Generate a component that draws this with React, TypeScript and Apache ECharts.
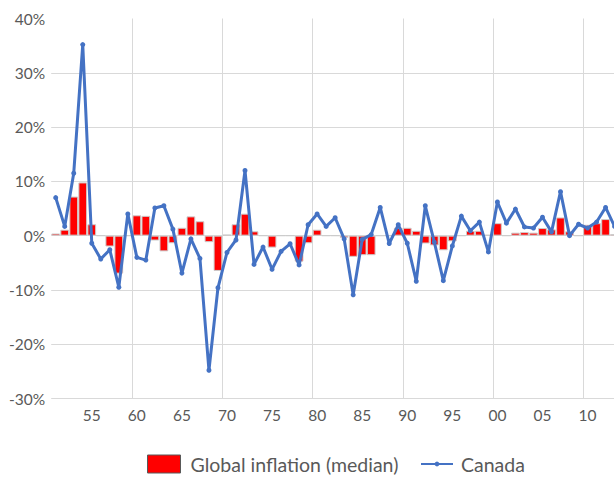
import React, { useEffect, useRef } from 'react';
import * as echarts from 'echarts';

const years = [
  '1951', '1952', '1953', '1954', '1955', '1956', '1957', '1958', '1959', '1960',
  '1961', '1962', '1963', '1964', '1965', '1966', '1967', '1968', '1969', '1970',
  '1971', '1972', '1973', '1974', '1975', '1976', '1977', '1978', '1979', '1980',
  '1981', '1982', '1983', '1984', '1985', '1986', '1987', '1988', '1989', '1990',
  '1991', '1992', '1993', '1994', '1995', '1996', '1997', '1998', '1999', '2000',
  '2001', '2002', '2003', '2004', '2005', '2006', '2007', '2008', '2009', '2010',
  '2011', '2012', '2013',
];

const globalInflation = [
  0.4, 1.1, 7.2, 9.8, 2.1, 0, -2.0, -7.0, 0, 3.75,
  3.65, -0.9, -2.9, -1.4, 1.45, 3.55, 2.65, -1.2, -6.5, 0.2,
  2.1, 4.05, 0.8, 0, -2.2, 0, 0, -4.8, -1.4, 1.1,
  0, 0, -0.4, -3.9, -3.6, -3.6, 0, 0, 1.45, 1.45,
  0.9, -1.45, -1.8, -2.7, -1.05, 0, 0.9, 0.9, 0.15, 2.3,
  0, 0.55, 0.65, 0.55, 1.4, 1.15, 3.35, 0.8, 0, 2.0,
  2.3, 3.05, 0.3,
];

const canada = [
  7.0, 1.7, 11.5, 35.2, -1.4, -4.3, -2.6, -9.5, 4.0, -4.0,
  -4.5, 5.1, 5.5, 1.2, -6.9, -0.6, -4.2, -24.8, -9.6, -3.1,
  -0.8, 12.0, -5.3, -2.1, -6.2, -2.9, -1.5, -5.4, 2.0, 4.0,
  1.7, 3.3, -0.6, -10.9, -0.7, 0.2, 5.2, -1.45, 2.0, -1.4,
  -8.4, 5.5, -1.2, -8.3, -1.9, 3.6, 0.9, 2.5, -3.0, 6.2,
  2.3, 4.9, 1.6, 1.4, 3.4, 0.7, 8.1, 0.0, 2.1, 1.4,
  2.5, 5.2, 1.7,
];

const seriesNames = ['Global inflation (median)', 'Canada'];

export default function App() {
  const ref = useRef<HTMLDivElement>(null);
  useEffect(() => {
    const chart = echarts.init(ref.current!, null, { renderer: 'svg' });
    const font = 'Lato, "Noto Sans", sans-serif';
    const gridColor = '#d9d9d9';
    const textColor = '#595959';
    chart.setOption({
      animation: false,
      textStyle: { fontFamily: font },
      grid: { left: 51.2, top: 18.5, width: 567.9, height: 380, containLabel: false },
      legend: [
        {
          data: [{ name: seriesNames[0], icon: 'rect', itemStyle: { borderColor: '#595959', borderWidth: 1 } }],
          left: 147,
          top: 454,
          padding: 0,
          itemWidth: 33,
          itemHeight: 18,
          textStyle: { color: textColor, fontSize: 19.5, fontFamily: font, padding: [0, 0, 0, 5] },
        },
        {
          data: [seriesNames[1]],
          left: 420,
          top: 454,
          padding: 0,
          itemWidth: 32,
          itemHeight: 6,
          textStyle: { color: textColor, fontSize: 19.5, fontFamily: font, padding: [0, 0, 0, 3] },
        },
      ],
      xAxis: {
        type: 'category',
        data: years,
        boundaryGap: true,
        axisLine: { show: false },
        axisTick: {
          show: true,
          length: 5,
          interval: (_i: number, v: string) => Number(v) % 10 === 0,
          lineStyle: { color: gridColor },
        },
        axisLabel: {
          interval: (_i: number, v: string) => Number(v) % 5 === 0,
          formatter: (v: string) => v.slice(2),
          color: textColor,
          fontSize: 15.5,
          margin: 8,
          fontFamily: font,
        },
        splitLine: {
          show: true,
          interval: (_i: number, v: string) => Number(v) % 10 === 0,
          lineStyle: { color: gridColor, width: 1 },
        },
      },
      yAxis: {
        type: 'value',
        min: -30,
        max: 40,
        interval: 10,
        axisLine: { show: false },
        axisTick: { show: false },
        axisLabel: { formatter: '{value}%', color: textColor, fontSize: 15.5, margin: 6, fontFamily: font },
        splitLine: {
          lineStyle: {
            color: [gridColor, gridColor, gridColor, gridColor, gridColor, gridColor, gridColor, 'rgba(0,0,0,0)'],
            width: 1,
          },
        },
      },
      series: [
        {
          name: seriesNames[0],
          type: 'bar',
          data: globalInflation,
          barCategoryGap: '3%',
          itemStyle: { color: '#ff0000', borderColor: '#cccccc', borderWidth: 1 },
          z: 2,
        },
        {
          name: seriesNames[1],
          type: 'line',
          data: canada,
          symbol: 'circle',
          symbolSize: 5,
          showSymbol: true,
          lineStyle: { color: '#4472c4', width: 3 },
          itemStyle: { color: '#4472c4' },
          z: 3,
        },
      ],
    });
    return () => chart.dispose();
  }, []);
  return (
    <div style={{ position: 'absolute', left: 0, top: 0, width: 614, height: 477, overflow: 'hidden', background: '#fff' }}>
      <div ref={ref} style={{ width: 640, height: 477 }} />
    </div>
  );
}
